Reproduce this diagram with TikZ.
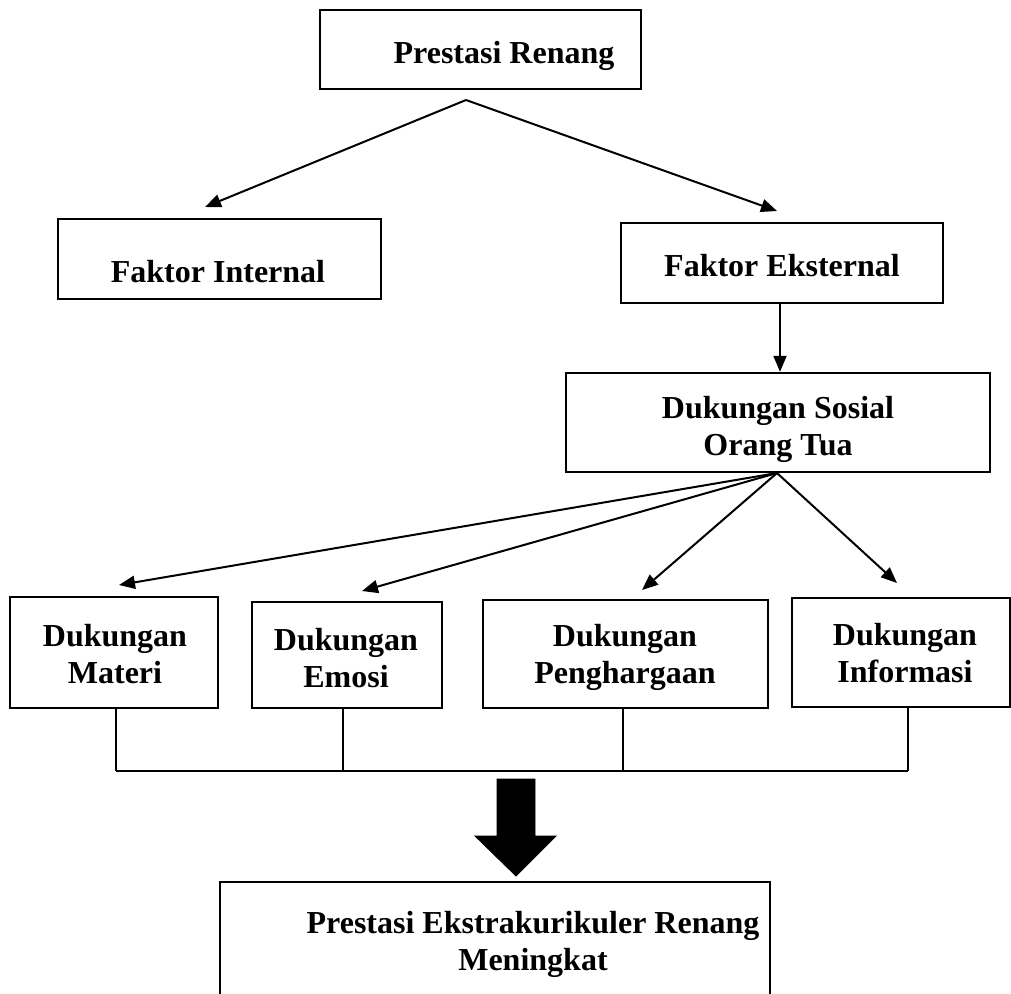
\documentclass[tikz,border=0pt]{standalone}
\usepackage{fontspec}
\setmainfont{Liberation Serif}
\usetikzlibrary{arrows.meta}
\begin{document}
\begin{tikzpicture}[x=0.5pt,y=-0.5pt,
  box/.style={draw, line width=1.2pt, rectangle, inner sep=0pt},
  lbl/.style={align=center, anchor=base, font=\bfseries\fontsize{16}{18.5}\selectfont, inner sep=0pt},
  arr/.style={line width=1pt, -{Triangle[length=8pt,width=6.5pt]}},
  busline/.style={line width=0.6pt},
  bigarrow/.style={fill=black, draw=black, line width=0.4pt}]
\useasboundingbox (0,0) rectangle (1011,993);
% boxes
\node[box, minimum width=160.5pt, minimum height=39.5pt] (PR) at (480.5,49.5) {};
\node[box, minimum width=161.5pt, minimum height=40pt] (FI) at (219.5,259) {};
\node[box, minimum width=161pt, minimum height=40pt] (FE) at (782,263) {};
\node[box, minimum width=212pt, minimum height=49.5pt] (DS) at (778,422.5) {};
\node[box, minimum width=104pt, minimum height=55.5pt] (DM) at (114,652.5) {};
\node[box, minimum width=95pt, minimum height=53pt] (DE) at (347,655) {};
\node[box, minimum width=142.5pt, minimum height=54pt] (DP) at (625.5,654) {};
\node[box, minimum width=109pt, minimum height=54.5pt] (DI) at (901,652.5) {};
% labels (placed at last baseline)
\node[lbl] (tPR) at (504,63) {Prestasi Renang};
\node[lbl] (tFI) at (218,282) {Faktor Internal};
\node[lbl] (tFE) at (782,276) {Faktor Eksternal};
\node[lbl] (tDS) at (778,455) {Dukungan Sosial\\Orang Tua};
\node[lbl] (tDM) at (115,683) {Dukungan\\Materi};
\node[lbl] (tDE) at (346,687) {Dukungan\\Emosi};
\node[lbl] (tDP) at (625,683) {Dukungan\\Penghargaan};
\node[lbl] (tDI) at (905,682) {Dukungan\\Informasi};
\node[lbl] (tPE) at (533,970) {Prestasi Ekstrakurikuler Renang\\Meningkat};
% bottom (cut-off) box
\draw[line width=1.2pt] (220,1000) -- (220,882) -- (770,882) -- (770,1000);
% coordinates
\coordinate (peak) at (466,100);
\coordinate (aFI) at (205,207);
\coordinate (aFE) at (777,211);
\coordinate (fan) at (777,473);
\coordinate (aDM) at (119,585);
\coordinate (aDE) at (362,591);
\coordinate (aDP) at (642,590);
\coordinate (aDI) at (897,583);
% connectors
\draw[arr] (peak) -- (aFI);
\draw[arr] (peak) -- (aFE);
\draw[arr] (FE.south -| 780,0) -- (DS.north -| 780,0);
\draw[arr] (fan) -- (aDM);
\draw[arr] (fan) -- (aDE);
\draw[arr] (fan) -- (aDP);
\draw[arr] (fan) -- (aDI);
% bus
\coordinate (bL) at (116,771);
\coordinate (bR) at (908,771);
\draw[busline] (DM.south -| 116,0) -- (bL);
\draw[busline] (DE.south -| 343,0) -- (343,771);
\draw[busline] (DP.south -| 623,0) -- (623,771);
\draw[busline] (DI.south -| 908,0) -- (bR);
\draw[busline] (bL) -- (bR);
% big arrow
\fill[bigarrow] (497,779) -- (535,779) -- (535,836) -- (556,836) -- (516,876) -- (475,836) -- (497,836) -- cycle;
\end{tikzpicture}
\end{document}
